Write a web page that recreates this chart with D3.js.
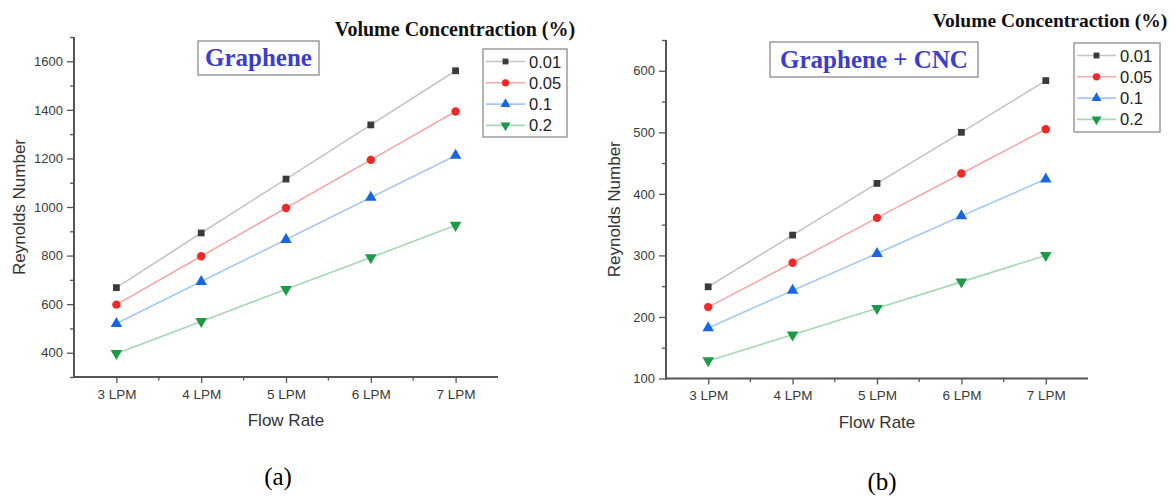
<!DOCTYPE html>
<html>
<head>
<meta charset="utf-8">
<script src="https://cdn.jsdelivr.net/npm/d3@7"></script>
<style>
  html, body { margin: 0; padding: 0; background: #fff; }
  svg { display: block; }
</style>
</head>
<body>
<svg id="chart" width="1175" height="497"></svg>
<script>
// ---------- data ----------
const categories = ["3 LPM", "4 LPM", "5 LPM", "6 LPM", "7 LPM"];
const seriesNames = ["0.01", "0.05", "0.1", "0.2"];

const grapheneS001 = [668, 893, 1115, 1338, 1561];
const grapheneS005 = [598, 797, 996, 1194, 1393];
const grapheneS01  = [520, 693, 866, 1039, 1212];
const grapheneS02  = [397, 529, 661, 792, 925];

const cncS001 = [249, 333, 417, 500, 584];
const cncS005 = [216, 288, 361, 433, 505];
const cncS01  = [182, 243, 303, 364, 424];
const cncS02  = [129, 171, 214, 257, 300];

const grapheneTicks = [400, 600, 800, 1000, 1200, 1400, 1600];
const grapheneMinor = [300, 500, 700, 900, 1100, 1300, 1500, 1700];
const cncTicks = [100, 200, 300, 400, 500, 600];
const cncMinor = [150, 250, 350, 450, 550, 650];

// ---------- styles ----------
const markerColors = ["#3a3a3a", "#f02828", "#1a66e0", "#1c9a48"];
const lineColors   = ["#c4c4c4", "#f5a8a8", "#a8c8f2", "#a6d8b4"];
const markerTypes  = [d3.symbolSquare, d3.symbolCircle, d3.symbolTriangle, "down"];
const markerSizes  = [46, 56, 58, 58];

const svg = d3.select("#chart");
const SANS = "'Liberation Sans', Arial, sans-serif";
const SERIF = "'Liberation Serif', 'Times New Roman', serif";

function markerPath(i, scale) {
  const t = markerTypes[i] === "down" ? d3.symbolTriangle : markerTypes[i];
  return d3.symbol().type(t).size(markerSizes[i] * (scale || 1))();
}

function drawPanel(cfg) {
  const g = svg.append("g");
  const x = d3.scalePoint().domain(categories).range([cfg.left, cfg.right]).padding(0.5);
  const y = d3.scaleLinear().domain(cfg.domain).range([cfg.bottom, cfg.top]);
  const step = x.step();

  // y axis major
  const yAx = g.append("g").attr("transform", `translate(${cfg.left},0)`)
    .call(d3.axisLeft(y).tickValues(cfg.ticks).tickFormat(d3.format("d"))
      .tickSize(7).tickPadding(4).tickSizeOuter(0));
  yAx.select(".domain").remove();
  yAx.selectAll("line").attr("stroke", "#555").attr("stroke-width", 1.3);
  yAx.selectAll("text").attr("font-family", SANS).attr("font-size", 13).attr("fill", "#3a3a3a");
  // y minor
  const yMin = g.append("g").attr("transform", `translate(${cfg.left},0)`)
    .call(d3.axisLeft(y).tickValues(cfg.minor).tickSize(4).tickFormat(""));
  yMin.select(".domain").remove();
  yMin.selectAll("line").attr("stroke", "#555").attr("stroke-width", 1.3);

  // x axis major
  const xAx = g.append("g").attr("transform", `translate(0,${cfg.bottom})`)
    .call(d3.axisBottom(x).tickSize(6).tickPadding(6).tickSizeOuter(0));
  xAx.select(".domain").remove();
  xAx.selectAll("line").attr("stroke", "#555").attr("stroke-width", 1.3);
  xAx.selectAll("text").attr("font-family", SANS).attr("font-size", 13.5).attr("fill", "#3a3a3a");
  // x minor (half steps)
  const minorX = categories.slice(0, -1).map(c => x(c) + step / 2);
  g.append("g").selectAll("line").data(minorX).join("line")
    .attr("x1", d => d).attr("x2", d => d)
    .attr("y1", cfg.bottom).attr("y2", cfg.bottom + 3.5)
    .attr("stroke", "#555").attr("stroke-width", 1.3);

  // axis lines
  g.append("line").attr("x1", cfg.left).attr("x2", cfg.left)
    .attr("y1", cfg.top).attr("y2", cfg.bottom + 1)
    .attr("stroke", "#555").attr("stroke-width", 2);
  g.append("line").attr("x1", cfg.left - 1).attr("x2", cfg.right)
    .attr("y1", cfg.bottom).attr("y2", cfg.bottom)
    .attr("stroke", "#555").attr("stroke-width", 2);

  // axis titles
  g.append("text").attr("x", (cfg.left + cfg.right) / 2).attr("y", cfg.bottom + 49)
    .attr("text-anchor", "middle").attr("font-family", SANS).attr("font-size", 17)
    .attr("fill", "#333").text("Flow Rate");
  g.append("text")
    .attr("transform", `translate(${cfg.ylabelX},${(cfg.top + cfg.bottom) / 2}) rotate(-90)`)
    .attr("text-anchor", "middle").attr("font-family", SANS).attr("font-size", 17)
    .attr("fill", "#333").text("Reynolds Number");

  // lines + markers
  const line = d3.line().x((d, i) => x(categories[i])).y(d => y(d));
  cfg.series.forEach((vals, si) => {
    g.append("path").datum(vals).attr("d", line)
      .attr("fill", "none").attr("stroke", lineColors[si]).attr("stroke-width", 1.6);
  });
  cfg.series.forEach((vals, si) => {
    g.append("g").selectAll("path").data(vals).join("path")
      .attr("d", markerPath(si))
      .attr("transform", (d, i) => `translate(${x(categories[i])},${y(d)})` + (markerTypes[si] === "down" ? " rotate(180)" : ""))
      .attr("fill", markerColors[si]);
  });

  // annotation box
  const ann = g.append("g");
  ann.append("rect").attr("x", cfg.ann.x).attr("y", cfg.ann.y)
    .attr("width", cfg.ann.w).attr("height", cfg.ann.h)
    .attr("fill", "#fff").attr("stroke", "#9a9a9a").attr("stroke-width", 1.5);
  ann.append("text").attr("x", cfg.ann.x + cfg.ann.w / 2).attr("y", cfg.ann.y + cfg.ann.h / 2 + 8)
    .attr("text-anchor", "middle").attr("font-family", SERIF).attr("font-weight", "bold")
    .attr("font-size", 25).attr("fill", "#3d3dcc").text(cfg.ann.text);

  // legend title
  g.append("text").attr("x", cfg.ltitle.x).attr("y", cfg.ltitle.y)
    .attr("text-anchor", "middle").attr("font-family", SERIF).attr("font-weight", "bold")
    .attr("font-size", cfg.ltitle.size).attr("fill", "#111").text("Volume Concentraction (%)");

  // legend
  const L = cfg.legend;
  g.append("rect").attr("x", L.x).attr("y", L.y).attr("width", L.w).attr("height", L.h)
    .attr("fill", "#fff").attr("stroke", "#9a9a9a").attr("stroke-width", 1.5);
  seriesNames.forEach((name, si) => {
    const ry = L.y + 12.5 + si * 21.3;
    g.append("line").attr("x1", L.x + 3).attr("x2", L.x + 42).attr("y1", ry).attr("y2", ry)
      .attr("stroke", lineColors[si]).attr("stroke-width", 1.6);
    g.append("path").attr("d", markerPath(si, 0.75))
      .attr("transform", `translate(${L.x + 22.5},${ry})` + (markerTypes[si] === "down" ? " rotate(180)" : ""))
      .attr("fill", markerColors[si]);
    g.append("text").attr("x", L.x + 46).attr("y", ry + 6)
      .attr("font-family", SANS).attr("font-size", 16.5).attr("fill", "#222").text(name);
  });

  // caption
  g.append("text").attr("x", cfg.caption.x).attr("y", cfg.caption.y)
    .attr("text-anchor", "middle").attr("font-family", SERIF).attr("font-size", 25)
    .attr("fill", "#000").text(cfg.caption.text);
}

drawPanel({
  left: 74, right: 498, top: 37, bottom: 377,
  domain: [300, 1700], ticks: grapheneTicks, minor: grapheneMinor,
  series: [grapheneS001, grapheneS005, grapheneS01, grapheneS02],
  ylabelX: 25,
  ann: { x: 198, y: 41, w: 121, h: 34, text: "Graphene" },
  ltitle: { x: 455, y: 36, size: 20 },
  legend: { x: 483, y: 49, w: 84, h: 88 },
  caption: { x: 278, y: 485, text: "(a)" }
});

drawPanel({
  left: 666, right: 1088, top: 40, bottom: 378.5,
  domain: [100, 650], ticks: cncTicks, minor: cncMinor,
  series: [cncS001, cncS005, cncS01, cncS02],
  ylabelX: 620,
  ann: { x: 770, y: 42, w: 208, h: 35, text: "Graphene + CNC" },
  ltitle: { x: 1050, y: 27, size: 19.5 },
  legend: { x: 1074, y: 43, w: 86, h: 89 },
  caption: { x: 882, y: 490, text: "(b)" }
});
</script>
</body>
</html>
